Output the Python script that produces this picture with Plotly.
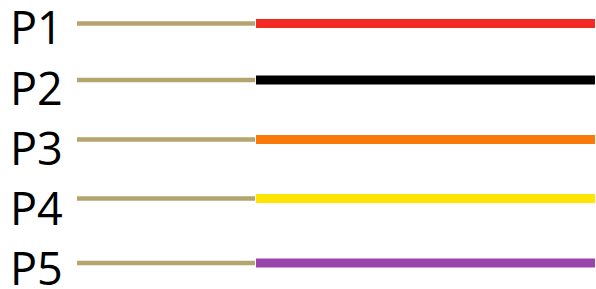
import plotly.graph_objects as go

labels = ["P1", "P2", "P3", "P4", "P5"]
line_y = [23.5, 80, 139.5, 198.5, 263]
label_y = [26, 87.5, 147, 207, 267.5]
colors = ["#f42a24", "#000000", "#f97a0a", "#ffe400", "#9b43ad"]
tan_start, tan_end = 77, 255
col_start, col_end = 256, 595
tan_color = "#b5a46e"

fig = go.Figure()
for lab, y, c in zip(labels, line_y, colors):
    fig.add_trace(go.Scatter(x=[tan_start, tan_end], y=[y, y], mode="lines",
                             line=dict(color=tan_color, width=4.5), showlegend=False,
                             hoverinfo="skip"))
    fig.add_trace(go.Scatter(x=[col_start, col_end], y=[y, y], mode="lines",
                             line=dict(color=c, width=9), showlegend=False,
                             hoverinfo="skip"))
for lab, y in zip(labels, label_y):
    fig.add_annotation(x=8, y=y, text=lab, showarrow=False, xanchor="left",
                       yanchor="middle", font=dict(size=45, color="#000000",
                                                   family="Open Sans"))

fig.update_layout(width=596, height=289, margin=dict(l=0, r=0, t=0, b=0),
                  paper_bgcolor="white", plot_bgcolor="white")
fig.update_xaxes(range=[0, 596], visible=False)
fig.update_yaxes(range=[289, 0], visible=False)
fig.write_html("out.html", config={"displayModeBar": False},
               post_script="document.body.style.margin='0';document.body.style.padding='0';")
